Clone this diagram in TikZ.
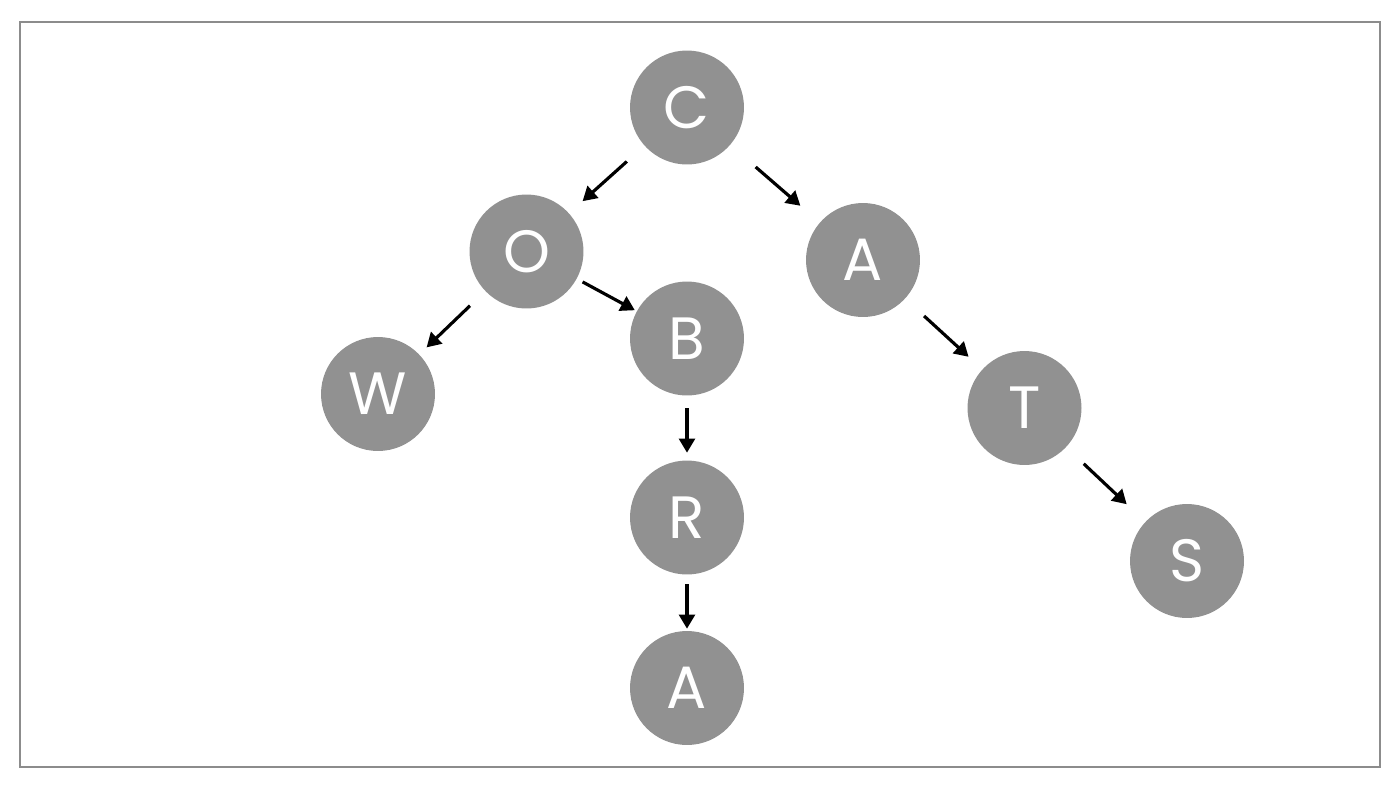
\documentclass[tikz,border=0pt]{standalone}
\usepackage{fontspec}
\setmainfont{Poppins}
\usetikzlibrary{arrows.meta}
\definecolor{NodeGray}{RGB}{145,145,145}
\definecolor{FrameGray}{RGB}{140,140,140}

\begin{document}
\begin{tikzpicture}[
                        x=0.02cm, y=-0.02cm,
                        letter/.style={circle, fill=NodeGray, minimum size=2.28cm, inner sep=0pt, text=white, font=\fontsize{34}{34}\selectfont},
                        trie/.style={-{Triangle[length=8pt, width=9pt]}, line width=1.8pt, black}
                    ]
                        \useasboundingbox (0,0) rectangle (1400,788);
                        \draw[FrameGray, line width=1.4pt] (20,22) rectangle (1380,767);
                        \node[letter] (c) at (687,107.5) {C};
                        \node[letter] (o) at (526.5,251.5) {O};
                        \node[letter] (a) at (863,260) {A};
                        \node[letter] (w) at (378,394) {W};
                        \node[letter] (b) at (687,338.5) {B};
                        \node[letter] (t) at (1024.5,408) {T};
                        \node[letter] (r) at (687,517.5) {R};
                        \node[letter] (s) at (1187,561) {S};
                        \node[letter] (aa) at (687,688) {A};
                        \draw[trie, shorten <=0.47cm, shorten >=0.36cm] (c) -- (o);
                        \draw[trie, shorten <=0.67cm, shorten >=0.51cm] (c) -- (a);
                        \draw[trie, shorten <=0.42cm, shorten >=0.2cm] (o) -- (w);
                        \draw[trie, shorten <=0.13cm, shorten >=0.04cm] (o) -- (b);
                        \draw[trie, shorten <=0.25cm, shorten >=0.15cm] (b) -- (r);
                        \draw[trie, shorten <=0.19cm, shorten >=0.04cm] (r) -- (aa);
                        \draw[trie, shorten <=0.51cm, shorten >=0.37cm] (a) -- (t);
                        \draw[trie, shorten <=0.48cm, shorten >=0.51cm] (t) -- (s);
                    \end{tikzpicture}
\end{document}
